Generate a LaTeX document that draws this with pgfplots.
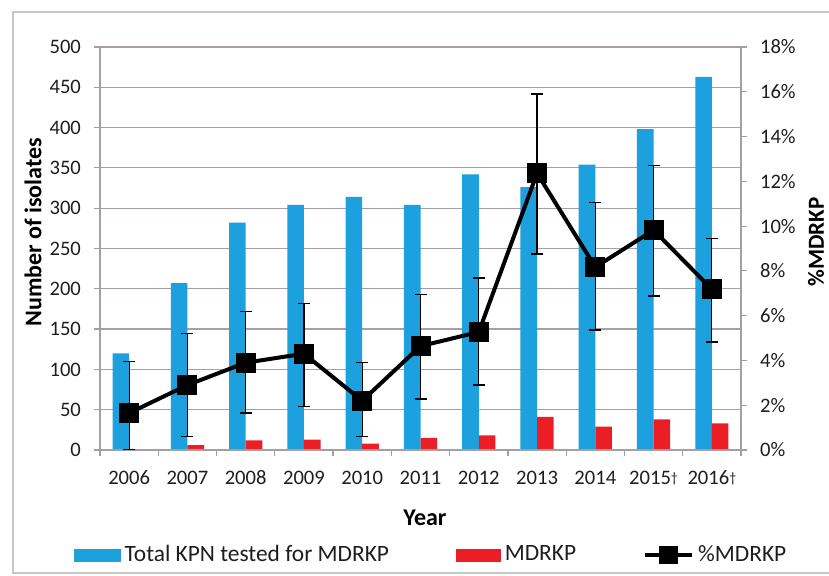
\documentclass[border=0pt]{standalone}
\usepackage{fontspec}
\setmainfont{Carlito}
\usepackage{pgfplots}
\pgfplotsset{compat=1.18}
\definecolor{kblue}{RGB}{28,160,222}
\definecolor{kred}{RGB}{234,30,36}
\definecolor{gridc}{RGB}{172,158,158}
\definecolor{axc}{RGB}{165,160,160}
\definecolor{txt}{RGB}{30,30,30}
\pgfplotsset{
  pctline/.style={legend image code/.code={\draw[##1, mark=none] plot coordinates {(0pt,0pt) (23.5pt,0pt)};
   \draw[##1, mark=square*, mark size=3.7pt] plot coordinates {(11.75pt,0pt)};}},
}
\begin{document}
\begin{tikzpicture}
\useasboundingbox (-50pt,-63pt) rectangle (364.5pt,225pt);
\draw[color=black!22, line width=0.7pt] (366pt,219pt) -- (-43.5pt,219pt) -- (-43.5pt,-61.5pt) -- (366pt,-61.5pt);
\pgfplotsset{every axis/.append style={
  scale only axis, width=320.5pt, height=201.5pt,
  xmin=-0.5, xmax=10.5,
  /pgf/number format/assume math mode=true,
  tick label style={font=\fontsize{10.3}{12}\selectfont, text=txt},
  tick align=outside, major tick length=3pt,
  tick style={axc, line width=0.6pt},
  axis line style={axc, line width=0.6pt},
}}
\begin{axis}[
  ymin=0, ymax=500, ytick={0,50,...,500},
  axis x line*=bottom, axis y line*=left,
  ymajorgrids, grid style={gridc, line width=0.6pt},
  xtick={0,...,10},
  xticklabels={2006,2007,2008,2009,2010,2011,2012,2013,2014,2015{\raisebox{0.25ex}{\fontsize{7}{8}\selectfont\dag}},2016{\raisebox{0.25ex}{\fontsize{7}{8}\selectfont\dag}}},
  xtick style={draw=none},
  xticklabel style={anchor=center, yshift=-11pt},
  yticklabel style={xshift=-3pt},
  ybar=0pt, bar width=8.3pt,
  xlabel={Year}, ylabel={Number of isolates},
  every axis x label/.style={at={(rel axis cs:0.507,0)}, yshift=-34pt, anchor=center, font=\fontsize{12}{14}\selectfont\bfseries},
  every axis y label/.style={at={(rel axis cs:0,0.54)}, xshift=-33.5pt, rotate=90, anchor=center, font=\fontsize{12}{14}\selectfont\bfseries},
]
\addplot[fill=kblue, draw=none] coordinates {
 (0,120) (1,207) (2,282) (3,304) (4,314) (5,304) (6,342) (7,326) (8,354) (9,398) (10,463)};
\addplot[fill=kred, draw=none] coordinates {
 (0,1) (1,6) (2,12) (3,13) (4,8) (5,15) (6,18) (7,41) (8,29) (9,38) (10,33)};
\end{axis}
\begin{axis}[
  ymin=0, ymax=18, ytick={0,2,...,18},
  yticklabel={\pgfmathprintnumber{\tick}\%},
  yticklabel style={xshift=3pt},
  axis x line*=bottom, axis y line*=right,
  xtick={-0.5,0.5,...,10.5}, xticklabels={},
  ylabel={\%MDRKP},
  every axis y label/.style={at={(rel axis cs:1,0.516)}, xshift=37.5pt, rotate=90, anchor=center, font=\fontsize{11.5}{14}\selectfont\bfseries},
  legend columns=3,
  legend style={at={(0.518,-0.2605)}, anchor=center, draw=none, fill=none,
    font=\fontsize{11.7}{14}\selectfont, text=txt,
    /tikz/every even column/.append style={column sep=31.5pt},
    /tikz/every odd column/.append style={column sep=0pt}},
]
\addlegendimage{legend image code/.code={\fill[kblue] (0pt,-3pt) rectangle (23pt,3pt);}}
\addlegendentry{Total KPN tested for MDRKP}
\addlegendimage{legend image code/.code={\fill[kred] (0pt,-3pt) rectangle (22pt,3pt);}}
\addlegendentry{MDRKP}
\addplot[black, line width=2pt, mark=square*, mark size=4pt,
  mark options={solid}, pctline,
  error bars/.cd, y dir=both, y explicit,
  error bar style={black, line width=0.6pt},
  error mark options={rotate=90, black, line width=0.6pt, mark size=3pt}]
 coordinates {
 (0,1.65) += (0,2.32) -= (0,1.65)
 (1,2.9) += (0,2.3) -= (0,2.3)
 (2,3.9) += (0,2.3) -= (0,2.25)
 (3,4.3) += (0,2.25) -= (0,2.34)
 (4,2.2) += (0,1.7) -= (0,1.6)
 (5,4.64) += (0,2.32) -= (0,2.36)
 (6,5.27) += (0,2.41) -= (0,2.37)
 (7,12.36) += (0,3.54) -= (0,3.61)
 (8,8.17) += (0,2.9) -= (0,2.81)
 (9,9.82) += (0,2.9) -= (0,2.94)
 (10,7.18) += (0,2.28) -= (0,2.36)
 };
\addlegendentry{\%MDRKP}
\end{axis}
\end{tikzpicture}
\end{document}
